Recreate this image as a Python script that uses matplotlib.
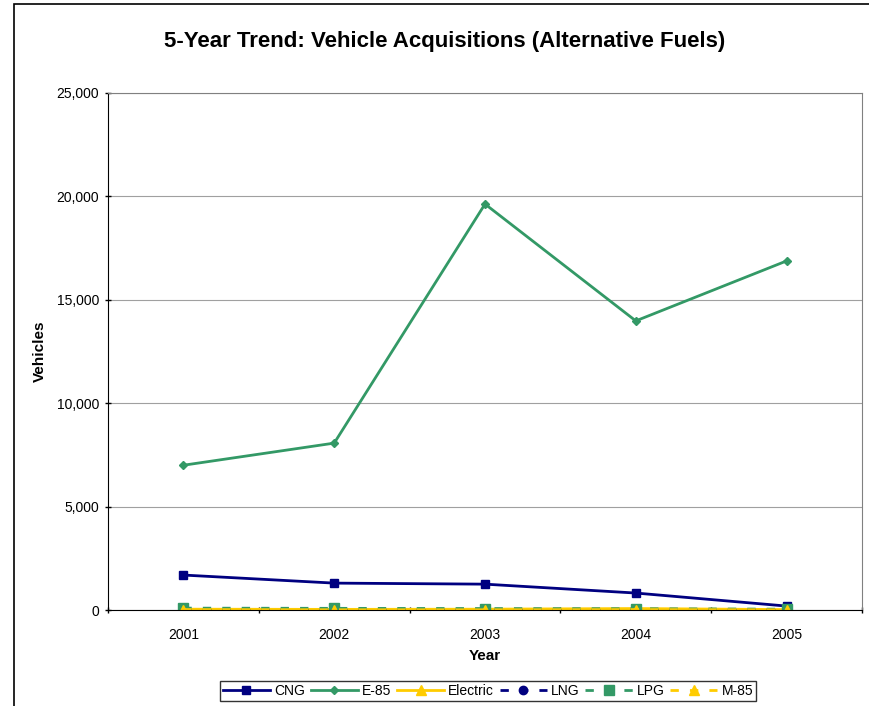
import matplotlib
matplotlib.use("Agg")
import matplotlib.pyplot as plt
from matplotlib.patches import Rectangle
from matplotlib.ticker import FuncFormatter

plt.rcParams["font.family"] = ["Liberation Sans", "DejaVu Sans"]

years = ["2001", "2002", "2003", "2004", "2005"]
cng = [1690, 1300, 1250, 820, 190]
e85 = [7000, 8070, 19630, 13980, 16880]
electric = [40, 30, 40, 70, 20]
lng = [5, 5, 5, 5, 5]
lpg = [90, 80, 70, 60, 40]
m85 = [20, 10, 10, 20, 10]

navy = "#000080"
green = "#339966"
yellow = "#FFCC00"

fig = plt.figure(figsize=(8.69, 7.06), dpi=100)
ax = fig.add_axes([108 / 869, 1 - 610 / 706, 754 / 869, 517 / 706])

x = list(range(1, len(years) + 1))
ax.plot(x, cng, color=navy, lw=2, marker="s", ms=6, label="CNG")
ax.plot(x, e85, color=green, lw=2, marker="D", ms=4.5, label="E-85")
ax.plot(x, electric, color=yellow, lw=2, marker="^", ms=7, label="Electric")
ax.plot(x, lng, color=navy, lw=2, ls=(0, (3, 4)), marker="o", ms=6, label="LNG")
ax.plot(x, lpg, color=green, lw=2, ls=(0, (3, 4)), marker="s", ms=7, label="LPG")
ax.plot(x, m85, color=yellow, lw=2, ls=(0, (3, 4)), marker="^", ms=7, label="M-85")

ax.set_xlim(0.5, len(years) + 0.5)
ax.set_ylim(0, 25000)
ax.set_yticks(range(0, 25001, 5000))
ax.yaxis.set_major_formatter(FuncFormatter(lambda v, p: f"{int(v):,}"))
ax.yaxis.grid(True, color="#a0a0a0", lw=0.8)
ax.set_axisbelow(True)

# tick marks sit between categories, labels at category centres
ax.set_xticks([i + 0.5 for i in range(0, len(years) + 1)])
ax.set_xticklabels([])
ax.set_xticks(x, minor=True)
ax.set_xticklabels(years, minor=True)
ax.tick_params(axis="x", which="minor", length=0, pad=13, labelsize=10)
ax.tick_params(axis="x", which="major", length=5, width=1, direction="inout")
ax.tick_params(axis="y", length=5, width=1, direction="inout", labelsize=10, pad=4)

for side in ("top", "right"):
    ax.spines[side].set_color("#808080")
for side in ("left", "bottom"):
    ax.spines[side].set_color("black")

ax.set_xlabel("Year", fontsize=11, fontweight="bold", labelpad=5)
ax.set_ylabel("Vehicles", fontsize=11, fontweight="bold", labelpad=7)

fig.text(445 / 869, 1 - 41 / 706, "5-Year Trend: Vehicle Acquisitions (Alternative Fuels)",
         ha="center", va="center", fontsize=16, fontweight="bold")

leg = fig.legend(loc="center", bbox_to_anchor=(488 / 869, 1 - 691 / 706), ncol=6,
                 fontsize=10, frameon=True, fancybox=False, handlelength=3.4,
                 columnspacing=0.4, handletextpad=0.3, borderpad=0.2)
leg.get_frame().set_edgecolor("black")
leg.get_frame().set_linewidth(1)

# chart-area border, running off the bottom and right of the canvas
fig.patches.append(Rectangle((14 / 869, -0.05), 1.0, 1 - 4 / 706 + 0.05,
                             transform=fig.transFigure, fill=False,
                             edgecolor="black", lw=1.2))

fig.savefig("out.png", dpi=100)
